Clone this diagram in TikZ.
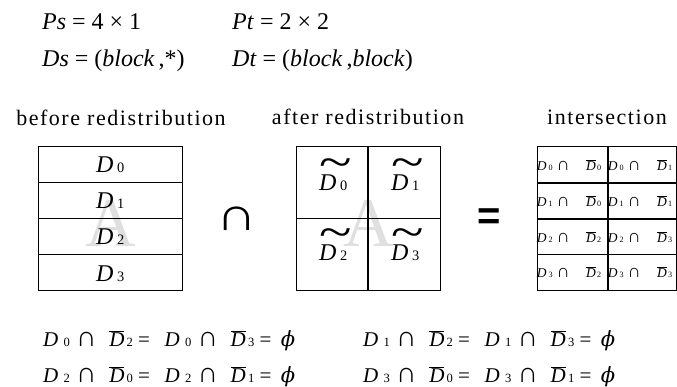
\documentclass[tikz,border=0pt]{standalone}
\usepackage{fontspec}
\setmainfont{Liberation Serif}
\newfontfamily\eqsans{Liberation Sans}
\newfontfamily\symfont{DejaVu Serif}

% small index set on the line, next to the letter
\newcommand\idx[1]{\scalebox{0.6}{#1}}
\newcommand\capsym{\scalebox{1.35}{∩}}
\newcommand\plainD[1]{\textit{D}\hspace{0.15em}\idx{#1}}
\newcommand\tildeD[1]{\makebox[0pt][l]{\hspace{0.02em}\raisebox{0.56em}{\scalebox{2.5}[1.9]{\textasciitilde}}}\textit{D}\hspace{0.15em}\idx{#1}}
\newcommand\barD[1]{$\overline{\hbox{\textit{D}}}$\hspace{0.1em}\idx{#1}}
% one cell of the intersection table
\newcommand\cellD[2]{\textit{D}\hspace{0.15em}\idx{#1}\hspace{0.3em}\capsym\hspace{1.2em}\barD{#2}}
% one empty intersection
\newcommand\emptyD[2]{\textit{D}\hspace{0.25em}\idx{#1}\hspace{0.3em}\capsym\hspace{0.6em}\barD{#2}}

\begin{document}
\begin{tikzpicture}[x=1pt, y=-1pt,
  outer/.style={line width=0.8pt},
  inner/.style={line width=1.7pt},
  eqn/.style={anchor=base west, inner sep=0pt, font=\fontsize{24}{28}\selectfont},
  title/.style={anchor=base, inner sep=0pt,
    font=\fontsize{22}{26}\selectfont\addfontfeature{LetterSpace=7}},
  part/.style={anchor=base west, inner sep=0pt, font=\fontsize{24}{28}\selectfont},
  cell/.style={inner sep=0pt, font=\fontsize{13.5}{16}\selectfont},
  rel/.style={anchor=base west, inner sep=0pt, font=\fontsize{21}{25}\selectfont},
  wmark/.style={inner sep=0pt, text=gray!25, font=\fontsize{70}{70}\selectfont}]
\useasboundingbox (0,0) rectangle (677,387);
% distributions
\node[eqn] (ps) at (42,30) {\textit{Ps} = 4 × 1};
\node[eqn] (pt) at (232,30) {\textit{Pt} = 2 × 2};
\node[eqn] (ds) at (42,67) {\textit{Ds} = (\textit{block}\,,*)};
\node[eqn] (dt) at (232,67) {\textit{Dt} = (\textit{block}\,,\textit{block})};
% titles
\node[title] (before) at (121,126) {before redistribution};
\node[title] (after) at (368,125) {after redistribution};
\node[title] (inter) at (607,125) {intersection};
% faint marks behind the grids
\node[wmark] (mark1) at (111,223) {A};
\node[wmark] (mark2) at (369,223) {A};
% before: 4 x 1 blocks
\draw[outer] (38,146.5) rectangle (182,290.5);
\foreach \y in {182.5,218.5,254.5}
  \draw[inner] (38,\y) -- (182,\y);
\foreach \i/\y in {0/173,1/209,2/245,3/281}
  \node[part] (s\i) at (96,\y) {\plainD{\i}};
% intersection sign
\node[inner sep=0pt, font=\fontsize{24}{24}\selectfont] (capsign) at (237,219) {\scalebox{2.35}[1.95]{∩}};
% after: 2 x 2 blocks
\draw[outer] (296,146.5) rectangle (440.5,290.5);
\draw[inner] (368,146.5) -- (368,290.5);
\draw[inner] (296,218.5) -- (440.5,218.5);
\node[part] (t0) at (319,190.5) {\tildeD{0}};
\node[part] (t1) at (391,190.5) {\tildeD{1}};
\node[part] (t2) at (319,260.5) {\tildeD{2}};
\node[part] (t3) at (391,260.5) {\tildeD{3}};
% equals sign
\node[inner sep=0pt, font=\fontsize{40}{40}\selectfont\eqsans\bfseries] (eqsign) at (489,219) {=};
% intersection table
\draw[outer] (537,146.5) rectangle (676,290.5);
\draw[inner] (608,146.5) -- (608,290.5);
\foreach \y in {183,219,254.5}
  \draw[inner] (537,\y) -- (676,\y);
\node[cell] (c00) at (569,165) {\cellD{0}{0}};
\node[cell] (c01) at (640,165) {\cellD{0}{1}};
\node[cell] (c10) at (569,201) {\cellD{1}{0}};
\node[cell] (c11) at (640,201) {\cellD{1}{1}};
\node[cell] (c20) at (569,237) {\cellD{2}{2}};
\node[cell] (c21) at (640,237) {\cellD{2}{3}};
\node[cell] (c30) at (569,272.5) {\cellD{3}{2}};
\node[cell] (c31) at (640,272.5) {\cellD{3}{3}};
% empty intersections
\node[rel] (e0) at (43,346) {\emptyD{0}{2}\hspace{0.25em}=\hspace{0.7em}\emptyD{0}{3}\hspace{0.25em}=\hspace{0.45em}{\symfont\itshape ϕ}};
\node[rel] (e1) at (363,346) {\emptyD{1}{2}\hspace{0.25em}=\hspace{0.7em}\emptyD{1}{3}\hspace{0.25em}=\hspace{0.45em}{\symfont\itshape ϕ}};
\node[rel] (e2) at (43,382) {\emptyD{2}{0}\hspace{0.25em}=\hspace{0.7em}\emptyD{2}{1}\hspace{0.25em}=\hspace{0.45em}{\symfont\itshape ϕ}};
\node[rel] (e3) at (363,382) {\emptyD{3}{0}\hspace{0.25em}=\hspace{0.7em}\emptyD{3}{1}\hspace{0.25em}=\hspace{0.45em}{\symfont\itshape ϕ}};
\end{tikzpicture}
\end{document}
